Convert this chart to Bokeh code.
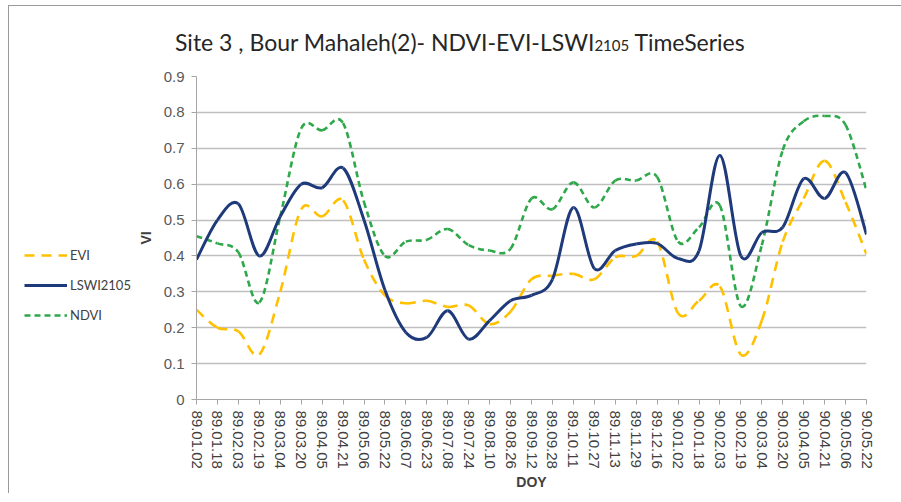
from bokeh.plotting import figure
from bokeh.models import (Range1d, FixedTicker, Legend, LegendItem, ColumnDataSource, Div)
from bokeh.layouts import column, row
from bokeh.embed import file_html
from bokeh.resources import INLINE

dates = ["89.01.02", "89.01.18", "89.02.03", "89.02.19", "89.03.04", "89.03.20", "89.04.05",
         "89.04.21", "89.05.06", "89.05.22", "89.06.07", "89.06.23", "89.07.08", "89.07.24",
         "89.08.10", "89.08.26", "89.09.12", "89.09.28", "89.10.11", "89.10.27", "89.11.13",
         "89.11.29", "89.12.16", "90.01.02", "90.01.18", "90.02.03", "90.02.19", "90.03.04",
         "90.03.20", "90.04.05", "90.04.21", "90.05.06", "90.05.22"]

evi = [0.25, 0.20, 0.19, 0.125, 0.30, 0.53, 0.51, 0.555, 0.39, 0.29, 0.268, 0.275, 0.258,
       0.262, 0.21, 0.245, 0.335, 0.345, 0.35, 0.335, 0.396, 0.40, 0.44, 0.24, 0.275, 0.315,
       0.125, 0.22, 0.44, 0.56, 0.665, 0.55, 0.405]

lswi = [0.39, 0.50, 0.545, 0.40, 0.51, 0.60, 0.59, 0.645, 0.50, 0.305, 0.187, 0.173, 0.247,
        0.168, 0.22, 0.275, 0.29, 0.335, 0.535, 0.365, 0.415, 0.433, 0.435, 0.393, 0.414, 0.68,
        0.40, 0.465, 0.48, 0.615, 0.56, 0.632, 0.46]

ndvi = [0.455, 0.435, 0.41, 0.27, 0.51, 0.755, 0.75, 0.77, 0.55, 0.40, 0.44, 0.445, 0.475,
        0.43, 0.415, 0.42, 0.56, 0.53, 0.605, 0.535, 0.61, 0.61, 0.62, 0.44, 0.48, 0.54, 0.26,
        0.43, 0.695, 0.775, 0.79, 0.765, 0.583]

y_ticks = [0, 0.1, 0.2, 0.3, 0.4, 0.5, 0.6, 0.7, 0.8, 0.9]
y_tick_labels = ["0", "0.1", "0.2", "0.3", "0.4", "0.5", "0.6", "0.7", "0.8", "0.9"]

series_names = ["EVI", "LSWI2105", "NDVI"]
title_main = "Site 3 , Bour Mahaleh(2)- NDVI-EVI-LSWI"
title_sub = "2105"
title_end = " TimeSeries"
x_title = "DOY"
y_title = "VI"

EVI_C = "#FFC000"
LSWI_C = "#1F3A7A"
NDVI_C = "#2EA84A"

STYLES = {
    "EVI": dict(line_color=EVI_C, line_width=2.6, line_dash="10 7"),
    "LSWI2105": dict(line_color=LSWI_C, line_width=3),
    "NDVI": dict(line_color=NDVI_C, line_width=2.6, line_dash="6 4"),
}

TOTAL_W = 884
LEG_W = 125
H = 430

title_html = (
    '<div style="font-family: Lato; font-size: 23px; line-height: 30px; color: #262626; '
    'white-space: nowrap; padding-top: 16px; padding-left: 161px;">'
    + title_main + '<span style="font-size: 15px;">' + title_sub + '</span>' + title_end
    + '</div>'
)
title_div = Div(text=title_html, width=TOTAL_W, height=47)

p = figure(width=TOTAL_W - LEG_W, height=H, output_backend="svg", toolbar_location=None,
           x_range=Range1d(0, len(dates) - 1), y_range=Range1d(0, 0.9),
           min_border_left=62, min_border_right=27, min_border_top=13, min_border_bottom=94)
p.outline_line_color = None
p.background_fill_color = "white"
p.border_fill_color = "white"

xs = list(range(len(dates)))


def smooth_segments(ys):
    n = len(ys)
    d = dict(x0=[], y0=[], x1=[], y1=[], cx0=[], cy0=[], cx1=[], cy1=[])
    for i in range(n - 1):
        im = max(i - 1, 0)
        ip2 = min(i + 2, n - 1)
        d["x0"].append(xs[i]); d["y0"].append(ys[i])
        d["x1"].append(xs[i + 1]); d["y1"].append(ys[i + 1])
        d["cx0"].append(xs[i] + (xs[i + 1] - xs[im]) / 6.0)
        d["cy0"].append(ys[i] + (ys[i + 1] - ys[im]) / 6.0)
        d["cx1"].append(xs[i + 1] - (xs[ip2] - xs[i]) / 6.0)
        d["cy1"].append(ys[i + 1] - (ys[ip2] - ys[i]) / 6.0)
    return ColumnDataSource(d)


sources = {"EVI": smooth_segments(evi), "LSWI2105": smooth_segments(lswi),
           "NDVI": smooth_segments(ndvi)}

BZ = dict(x0="x0", y0="y0", x1="x1", y1="y1", cx0="cx0", cy0="cy0", cx1="cx1", cy1="cy1")
for name in ["NDVI", "EVI", "LSWI2105"]:
    p.bezier(source=sources[name], **BZ, **STYLES[name])

# legend figure on the left (renderers hidden; only used for legend swatches)
pl = figure(width=LEG_W, height=H, output_backend="svg", toolbar_location=None,
            x_range=Range1d(0, len(dates) - 1), y_range=Range1d(0, 0.9),
            min_border_left=0, min_border_right=0, min_border_top=0, min_border_bottom=0)
pl.axis.visible = False
pl.grid.visible = False
pl.outline_line_color = None
pl.background_fill_color = "white"
pl.border_fill_color = "white"

items = []
for name in series_names:
    r = pl.bezier(source=sources[name], **BZ, **STYLES[name])
    r.visible = False
    items.append(LegendItem(label=name, renderers=[r]))

legend = Legend(items=items, location=(15, 74), padding=0, margin=0, spacing=10,
                glyph_width=43, glyph_height=20, label_height=20, label_standoff=3,
                border_line_color=None, background_fill_alpha=0, inactive_fill_alpha=0,
                label_text_font="Lato", label_text_font_size="13px", label_text_color="#404040")
pl.add_layout(legend)

# axes
p.xaxis.ticker = FixedTicker(ticks=xs)
p.xaxis.major_label_overrides = {i: d for i, d in enumerate(dates)}
p.xaxis.major_label_orientation = "vertical"
p.xaxis.major_label_text_font = "Liberation Sans"
p.xaxis.major_label_text_font_size = "15px"
p.xaxis.major_label_text_color = "#404040"
p.xaxis.major_label_standoff = 6
p.xaxis.major_tick_out = 5
p.xaxis.major_tick_in = 0
p.xaxis.minor_tick_line_color = None
p.xaxis.axis_line_color = "#A6A6A6"
p.xaxis.major_tick_line_color = "#A6A6A6"
p.xaxis.axis_label = x_title
p.xaxis.axis_label_text_font = "Liberation Sans"
p.xaxis.axis_label_text_font_style = "bold"
p.xaxis.axis_label_text_font_size = "14px"
p.xaxis.axis_label_text_color = "#404040"
p.xaxis.axis_label_standoff = 2

p.yaxis.ticker = FixedTicker(ticks=y_ticks)
p.yaxis.major_label_overrides = {t: s for t, s in zip(y_ticks, y_tick_labels)}
p.yaxis.major_label_text_font = "Liberation Sans"
p.yaxis.major_label_text_font_size = "15px"
p.yaxis.major_label_text_color = "#595959"
p.yaxis.major_label_standoff = 7
p.yaxis.major_tick_out = 5
p.yaxis.major_tick_in = 0
p.yaxis.minor_tick_line_color = None
p.yaxis.axis_line_color = "#A6A6A6"
p.yaxis.major_tick_line_color = "#A6A6A6"
p.yaxis.axis_label = y_title
p.yaxis.axis_label_text_font = "Liberation Sans"
p.yaxis.axis_label_text_font_style = "bold"
p.yaxis.axis_label_text_font_size = "14px"
p.yaxis.axis_label_text_color = "#404040"
p.yaxis.axis_label_standoff = 7

p.xgrid.visible = False
p.ygrid.grid_line_color = "#BFBFBF"
p.ygrid.grid_line_width = 1.3

layout = column(title_div, row(pl, p),
                styles={"margin-left": "8px", "margin-top": "5px",
                        "border-left": "1px solid #9a9a9a", "border-top": "1px solid #9a9a9a"})
open("out.html", "w").write(file_html(layout, INLINE))
